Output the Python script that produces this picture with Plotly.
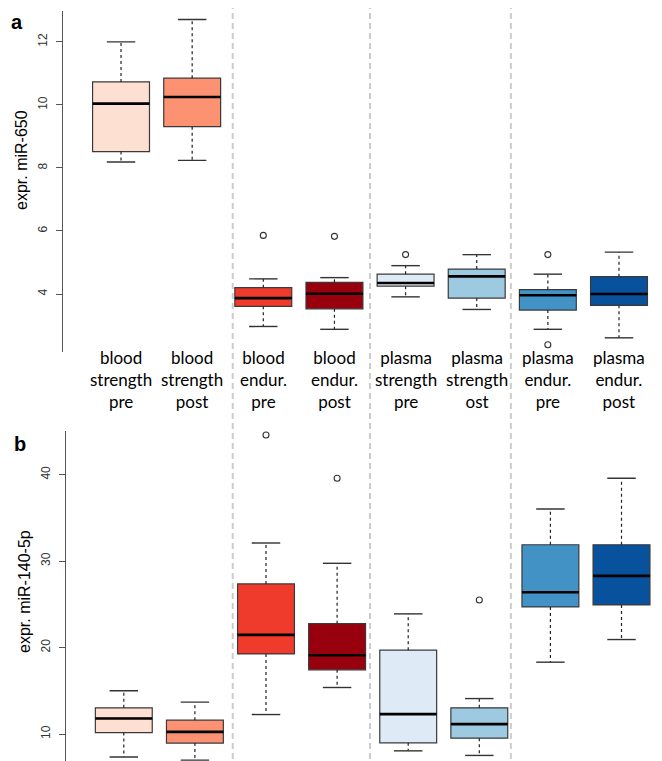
import plotly.graph_objects as go

# ---------------- data ----------------
categories = ["blood<br>strength<br>pre", "blood<br>strength<br>post",
              "blood<br>endur.<br>pre", "blood<br>endur.<br>post",
              "plasma<br>strength<br>pre", "plasma<br>strength<br>ost",
              "plasma<br>endur.<br>pre", "plasma<br>endur.<br>post"]
colors = ["#FDE0D2", "#FC9272", "#EF3B2C", "#99000D",
          "#DEEBF7", "#9ECAE1", "#4292C6", "#08519C"]

# panel a: miR-650
a_low = [8.19, 8.24, 2.97, 2.88, 3.91, 3.51, 2.88, 2.61]
a_q1 = [8.52, 9.31, 3.61, 3.53, 4.25, 3.87, 3.49, 3.64]
a_med = [10.04, 10.25, 3.87, 4.01, 4.35, 4.56, 3.96, 4.00]
a_q3 = [10.73, 10.85, 4.20, 4.37, 4.63, 4.79, 4.14, 4.55]
a_high = [12.0, 12.71, 4.48, 4.52, 4.90, 5.25, 4.63, 5.33]
a_out_x = [3, 4, 5, 7, 7]
a_out_y = [5.86, 5.83, 5.25, 5.25, 2.39]

# panel b: miR-140-5p
b_low = [7.33, 6.98, 12.25, 15.38, 8.05, 7.52, 18.31, 20.93]
b_q1 = [10.17, 8.95, 19.27, 17.42, 8.98, 9.52, 24.70, 24.94]
b_med = [11.80, 10.25, 21.47, 19.12, 12.30, 11.14, 26.40, 28.30]
b_q3 = [13.03, 11.60, 27.36, 22.77, 19.70, 13.03, 31.90, 31.90]
b_high = [15.0, 13.69, 32.10, 29.75, 23.90, 14.10, 36.03, 39.60]
b_out_x = [3, 4, 6]
b_out_y = [44.6, 39.6, 25.5]

separators = [2.57, 4.5, 6.48]
a_ticks = [4, 6, 8, 10, 12]
b_ticks = [10, 20, 30, 40]

# ---------------- figure ----------------
W, H = 662, 761
fig = go.Figure()
BOXW = 0.8
CAP = 0.2


def add_panel(xa, ya, low, q1, med, q3, high, ox, oy):
    for i in range(len(categories)):
        p = i + 1
        fig.add_trace(go.Box(
            x=[p], q1=[q1[i]], median=[med[i]], q3=[q3[i]],
            lowerfence=[q1[i]], upperfence=[q3[i]],
            width=BOXW, fillcolor=colors[i],
            line=dict(color="#3a3a3a", width=1.2),
            whiskerwidth=0, xaxis=xa, yaxis=ya, showlegend=False,
            hoverinfo="skip"))
        # dotted whiskers
        fig.add_trace(go.Scatter(
            x=[p, p, None, p, p], y=[q3[i], high[i], None, q1[i], low[i]],
            mode="lines", line=dict(color="#222222", width=1.2, dash="dot"),
            xaxis=xa, yaxis=ya, showlegend=False, hoverinfo="skip"))
        # whisker caps
        fig.add_trace(go.Scatter(
            x=[p - CAP, p + CAP, None, p - CAP, p + CAP],
            y=[high[i], high[i], None, low[i], low[i]],
            mode="lines", line=dict(color="#333333", width=1.4),
            xaxis=xa, yaxis=ya, showlegend=False, hoverinfo="skip"))
        # thick median
        fig.add_trace(go.Scatter(
            x=[p - BOXW / 2, p + BOXW / 2], y=[med[i], med[i]],
            mode="lines", line=dict(color="black", width=2.6),
            xaxis=xa, yaxis=ya, showlegend=False, hoverinfo="skip"))
    fig.add_trace(go.Scatter(
        x=ox, y=oy, mode="markers",
        marker=dict(symbol="circle-open", size=6, color="#333333",
                    line=dict(width=1.1)),
        xaxis=xa, yaxis=ya, showlegend=False, hoverinfo="skip"))


add_panel("x", "y", a_low, a_q1, a_med, a_q3, a_high, a_out_x, a_out_y)
add_panel("x2", "y2", b_low, b_q1, b_med, b_q3, b_high, b_out_x, b_out_y)

axcol = "#555555"
tickfont = dict(family="Liberation Sans, Arial, sans-serif", size=12, color="#333333")

fig.update_layout(
    width=W, height=H,
    margin=dict(l=0, r=0, t=0, b=0),
    paper_bgcolor="white", plot_bgcolor="white",
    xaxis=dict(domain=[54.7 / W, 1], range=[0.18, 8.717], showticklabels=False,
               showgrid=False, zeroline=False, showline=False, ticks=""),
    yaxis=dict(domain=[(H - 344) / H, (H - 3) / H], range=[2.16, 12.98],
               tickvals=a_ticks, ticks="outside", ticklen=6, tickcolor=axcol,
               tickangle=-90, tickfont=tickfont, showline=True, linecolor=axcol,
               linewidth=1, showgrid=False, zeroline=False, ticklabelstandoff=4),
    xaxis2=dict(domain=[57.5 / W, 1], range=[0.18, 8.682], showticklabels=False,
                showgrid=False, zeroline=False, showline=False, ticks="",
                anchor="y2"),
    yaxis2=dict(domain=[0, (H - 423) / H], range=[5.95, 45.06],
                tickvals=b_ticks, ticks="outside", ticklen=6, tickcolor=axcol,
                tickangle=-90, tickfont=tickfont, showline=True, linecolor=axcol,
                linewidth=1, showgrid=False, zeroline=False, anchor="x2",
                ticklabelstandoff=4),
)

# separators spanning full figure height
for s in separators:
    fig.add_shape(type="line", xref="x", yref="paper", x0=s, x1=s, y0=0, y1=1,
                  line=dict(color="#cccccc", width=2, dash="6px,4px"), layer="below")

annots = []
labfont = dict(family="Lato, Liberation Sans, sans-serif", size=17, color="black")
for i, c in enumerate(categories):
    annots.append(dict(x=i + 1, xref="x", y=(H - 337) / H, yref="paper",
                       yanchor="top", xanchor="center", text=c, showarrow=False,
                       font=labfont, align="center"))
titlefont = dict(family="Liberation Sans, Arial, sans-serif", size=16, color="black")
annots.append(dict(x=13 / W, y=(H - 152) / H, xref="paper", yref="paper",
                   text="expr. miR-650", textangle=-90, showarrow=False,
                   font=titlefont, xanchor="center", yanchor="middle"))
annots.append(dict(x=16 / W, y=(H - 584) / H, xref="paper", yref="paper",
                   text="expr. miR-140-5p", textangle=-90, showarrow=False,
                   font=titlefont, xanchor="center", yanchor="middle"))
panelfont = dict(family="Liberation Sans, Arial, sans-serif", size=20, color="black")
annots.append(dict(x=9 / W, y=(H - 14) / H, xref="paper", yref="paper",
                   text="<b>a</b>", showarrow=False, font=panelfont,
                   xanchor="center", yanchor="middle"))
annots.append(dict(x=12 / W, y=(H - 436) / H, xref="paper", yref="paper",
                   text="<b>b</b>", showarrow=False, font=panelfont,
                   xanchor="center", yanchor="middle"))
fig.update_layout(annotations=annots)

fig.write_html("out.html")
